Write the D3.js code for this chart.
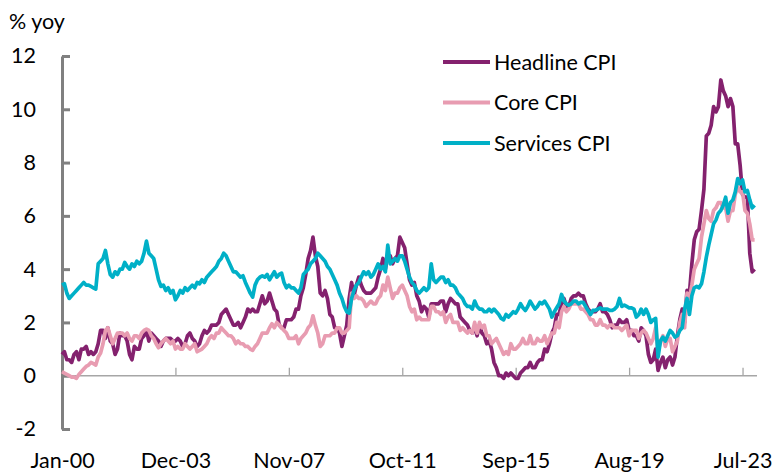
<!DOCTYPE html>
<html>
<head>
<meta charset="utf-8">
<script src="https://cdn.jsdelivr.net/npm/d3@7"></script>
<style>
  body { margin: 0; background: #fff; }
  svg { display: block; font-family: Lato, "Open Sans", sans-serif; }
</style>
</head>
<body>
<svg id="chart" width="777" height="472"></svg>
<script>
// monthly % yoy, Jan 2000 .. Dec 2023 (one row per year)
const headline = [
  0.8, 0.9, 0.6, 0.6, 0.5, 0.8, 0.9, 0.6, 1.0, 1.0, 1.1, 0.8,
  0.9, 0.8, 0.9, 1.2, 1.7, 1.7, 1.4, 1.8, 1.3, 1.2, 0.8, 1.0,
  1.6, 1.5, 1.5, 1.3, 0.8, 0.6, 1.1, 1.0, 1.0, 1.4, 1.5, 1.7,
  1.3, 1.6, 1.5, 1.4, 1.3, 1.1, 1.3, 1.4, 1.4, 1.4, 1.3, 1.3,
  1.4, 1.3, 1.1, 1.2, 1.5, 1.6, 1.4, 1.3, 1.1, 1.2, 1.5, 1.7,
  1.6, 1.7, 1.9, 1.9, 1.9, 2.0, 2.3, 2.4, 2.5, 2.3, 2.1, 1.9,
  1.9, 2.0, 1.8, 2.0, 2.2, 2.5, 2.4, 2.5, 2.4, 2.4, 2.7, 3.0,
  2.7, 2.8, 3.1, 2.8, 2.5, 2.4, 1.9, 1.8, 1.8, 2.1, 2.1, 2.1,
  2.2, 2.5, 2.5, 3.0, 3.3, 3.8, 4.4, 4.7, 5.2, 4.5, 4.1, 3.1,
  3.0, 3.2, 2.9, 2.3, 2.2, 1.8, 1.8, 1.6, 1.1, 1.5, 1.9, 2.9,
  3.5, 3.0, 3.4, 3.7, 3.4, 3.2, 3.1, 3.1, 3.1, 3.2, 3.3, 3.7,
  4.0, 4.4, 4.0, 4.5, 4.5, 4.2, 4.4, 4.5, 5.2, 5.0, 4.8, 4.2,
  3.6, 3.4, 3.5, 3.0, 2.8, 2.4, 2.6, 2.5, 2.2, 2.7, 2.7, 2.7,
  2.7, 2.8, 2.8, 2.4, 2.7, 2.9, 2.8, 2.7, 2.7, 2.2, 2.1, 2.0,
  1.9, 1.7, 1.6, 1.8, 1.5, 1.9, 1.6, 1.5, 1.2, 1.3, 1.0, 0.5,
  0.3, 0.0, 0.0, -0.1, 0.1, 0.0, 0.1, 0.0, -0.1, -0.1, 0.1, 0.2,
  0.3, 0.3, 0.5, 0.3, 0.3, 0.5, 0.6, 0.6, 1.0, 0.9, 1.2, 1.6,
  1.8, 2.3, 2.3, 2.7, 2.9, 2.6, 2.6, 2.9, 3.0, 3.0, 3.1, 3.0,
  3.0, 2.7, 2.5, 2.4, 2.4, 2.4, 2.5, 2.7, 2.4, 2.4, 2.3, 2.1,
  1.8, 1.9, 1.9, 2.1, 2.0, 2.0, 2.1, 1.7, 1.7, 1.5, 1.5, 1.3,
  1.8, 1.7, 1.5, 0.8, 0.5, 0.6, 1.0, 0.2, 0.5, 0.7, 0.3, 0.6,
  0.7, 0.4, 0.7, 1.5, 2.1, 2.5, 2.0, 3.2, 3.1, 4.2, 5.1, 5.4,
  5.5, 6.2, 7.0, 9.0, 9.1, 9.4, 10.1, 9.9, 10.1, 11.1, 10.7, 10.5,
  10.1, 10.4, 10.1, 8.7, 8.7, 7.9, 6.8, 6.7, 6.7, 4.6, 3.9, 4.0
];

const core = [
  0.15, 0.1, 0.05, 0.0, -0.05, -0.05, -0.1, 0.05, 0.15, 0.25, 0.35, 0.4,
  0.5, 0.45, 0.4, 0.7, 0.85, 1.2, 1.7, 1.8, 1.5, 1.2, 1.4, 1.6,
  1.6, 1.6, 1.5, 1.6, 1.4, 1.3, 1.5, 1.5, 1.4, 1.6, 1.7, 1.75,
  1.7, 1.5, 1.4, 1.2, 1.05, 1.2, 1.3, 1.4, 1.3, 1.2, 1.3, 1.0,
  1.1, 1.0, 1.0, 1.2, 1.1, 1.0, 1.1, 1.2, 0.9, 0.95, 1.0, 1.1,
  1.2, 1.4, 1.5, 1.4, 1.6, 1.6, 1.8, 1.7, 1.6, 1.5, 1.5, 1.4,
  1.2, 1.3, 1.2, 1.2, 1.1, 1.1, 1.0, 0.95, 1.1, 1.2, 1.4, 1.6,
  1.6, 1.6, 1.8, 1.95, 1.8, 2.0, 1.9, 1.8, 1.7, 1.6, 1.4, 1.4,
  1.4, 1.5, 1.2, 1.4, 1.5, 1.6, 1.8, 1.9, 2.25, 1.9, 1.6, 1.1,
  1.2, 1.5, 1.5, 1.5, 1.6, 1.6, 1.8, 1.8, 1.6, 1.6, 1.7, 1.8,
  3.1, 2.9, 3.0, 2.9, 2.9, 2.8, 2.6, 2.7, 2.8, 2.7, 2.7, 2.9,
  3.0, 3.4, 3.2, 3.7, 3.3, 2.9, 3.1, 3.1, 3.3, 3.4, 3.2, 3.0,
  2.6, 2.4, 2.5, 2.1, 2.2, 2.1, 2.1, 2.1, 2.1, 2.6, 2.6, 2.4,
  2.4, 2.3, 2.4, 2.0, 2.2, 2.3, 2.0, 2.0, 2.0, 1.7, 1.8, 1.7,
  1.6, 1.7, 1.6, 2.0, 1.6, 2.0, 1.8, 1.9, 1.5, 1.5, 1.2, 1.3,
  1.4, 1.2, 1.0, 0.8, 0.9, 0.8, 1.2, 1.0, 1.0, 1.1, 1.2, 1.4,
  1.2, 1.2, 1.5, 1.2, 1.2, 1.4, 1.3, 1.3, 1.5, 1.2, 1.4, 1.6,
  1.6, 2.0, 1.8, 2.4, 2.6, 2.4, 2.5, 2.7, 2.7, 2.7, 2.7, 2.5,
  2.5, 2.4, 2.3, 2.1, 2.1, 1.9, 1.9, 2.1, 1.9, 1.9, 1.8, 1.9,
  1.9, 1.8, 1.8, 1.8, 1.7, 1.8, 1.9, 1.5, 1.7, 1.7, 1.7, 1.4,
  1.6, 1.7, 1.6, 1.4, 1.2, 1.4, 1.8, 0.9, 1.3, 1.5, 1.1, 1.4,
  1.4, 0.9, 1.1, 1.3, 2.0, 2.3, 1.8, 3.1, 2.9, 3.4, 4.0, 4.2,
  4.4, 5.2, 5.7, 6.2, 5.9, 5.8, 6.2, 6.3, 6.5, 6.5, 6.3, 6.3,
  5.8, 6.2, 6.2, 6.8, 7.1, 6.9, 6.9, 6.2, 6.1, 5.7, 5.1, 5.1
];

const services = [
  3.4, 3.45, 3.1, 2.9, 3.0, 3.1, 3.2, 3.3, 3.4, 3.5, 3.4, 3.4,
  3.35, 3.3, 3.25, 4.2, 4.3, 4.4, 4.7, 4.2, 3.8, 3.7, 3.9, 3.8,
  4.0, 4.0, 4.25, 4.1, 4.0, 4.2, 4.1, 4.3, 4.2, 4.3, 4.6, 5.05,
  4.6, 4.5, 4.4, 4.0, 3.6, 3.35, 3.4, 3.2, 3.3, 3.1, 3.2, 2.85,
  3.0, 3.2, 3.1, 3.3, 3.2, 3.3, 3.4, 3.3, 3.5, 3.45, 3.6, 3.5,
  3.7, 3.8, 3.9, 4.0, 4.1, 4.3, 4.4, 4.6, 4.5, 4.3, 4.1, 3.9,
  3.9, 3.8, 3.7, 3.75, 3.5, 3.3, 3.1, 2.95, 3.4, 3.6, 3.7, 3.75,
  3.7, 3.8, 3.6, 3.75, 3.9, 3.7, 3.8, 3.85, 3.5, 3.3, 3.4, 3.3,
  3.3, 3.2, 3.1, 3.3, 3.8, 3.9, 4.0, 4.2, 4.3, 4.4, 4.6, 4.5,
  4.4, 4.3, 4.1, 4.0, 3.8, 3.6, 3.4, 3.1, 2.9, 2.6, 2.4, 2.35,
  2.9, 3.2, 3.4, 3.5, 3.7, 3.9, 3.8, 3.9, 3.7, 3.8, 4.0, 4.2,
  4.0, 4.1, 3.9, 4.9, 4.2, 4.3, 4.4, 4.3, 4.5, 4.5, 4.3, 4.0,
  3.7, 3.5, 3.4, 3.2, 3.1, 3.2, 3.3, 3.2, 3.3, 4.2, 3.6, 3.5,
  3.6, 3.7, 3.7, 3.5, 3.6, 3.4, 3.4, 3.3, 3.1, 3.0, 2.9, 2.7,
  2.6, 2.6, 2.5, 2.8, 2.6, 2.5, 2.5, 2.4, 2.4, 2.5, 2.4, 2.5,
  2.4, 2.3, 2.15, 2.1, 2.3, 2.2, 2.3, 2.4, 2.35, 2.5, 2.7, 2.55,
  2.45, 2.6, 2.8, 2.65, 2.5, 2.6, 2.75, 2.7, 2.8, 2.65, 2.5, 2.2,
  2.4, 2.55, 2.7, 3.05, 2.8, 2.7, 2.65, 2.7, 2.8, 2.8, 2.7, 2.75,
  2.75, 2.6, 2.45, 2.3, 2.45, 2.45, 2.5, 2.55, 2.5, 2.5, 2.5, 2.45,
  2.45, 2.5, 2.6, 2.9, 2.6, 2.65, 2.6, 2.55, 2.55, 2.5, 2.2, 2.3,
  2.5, 2.3, 2.5, 2.3, 2.0, 2.1, 2.15, 0.7, 1.3, 1.45, 1.3, 1.5,
  1.7, 1.6, 1.45, 1.5, 1.7, 1.8, 2.5, 2.9, 2.3, 3.0, 3.3, 3.35,
  3.3, 3.45, 3.9, 4.45, 4.9, 5.3, 5.7, 5.85, 6.1, 6.2, 6.4, 6.7,
  6.1, 6.5, 6.6, 6.9, 7.4, 7.2, 7.35, 6.9, 6.95, 6.6, 6.3, 6.4
];

const seriesNames = ['Headline CPI', 'Core CPI', 'Services CPI'];
const seriesColors = ['#84216e', '#e89cb1', '#00b0c7'];
const tickLabels = ['Jan-00', 'Dec-03', 'Nov-07', 'Oct-11', 'Sep-15', 'Aug-19', 'Jul-23'];
const yTicks = [-2, 0, 2, 4, 6, 8, 10, 12];

const months = d3.timeMonth.range(new Date(2000, 0, 1), new Date(2024, 0, 1));
const categories = months.map(d3.timeFormat('%b-%y'));

const svg = d3.select('#chart');
const fontSize = 21.5;

const x = d3.scalePoint().domain(categories).range([62, 754.6]);
const y = d3.scaleLinear().domain([-2, 12]).range([429, 56]);

// x axis sits on zero, labels pushed to the bottom
const xAxis = svg.append('g')
  .attr('transform', `translate(0,${y(0)})`)
  .call(d3.axisBottom(x).tickValues(tickLabels).tickSize(-8).tickPadding(77));
xAxis.select('.domain').remove();
xAxis.selectAll('.tick line').attr('stroke', '#a6a6a6').attr('stroke-width', 1.3);
xAxis.append('line')
  .attr('x1', 62).attr('x2', 757)
  .attr('stroke', '#a6a6a6').attr('stroke-width', 1.5);
xAxis.selectAll('text')
  .attr('font-size', fontSize).attr('fill', '#000')
  .attr('font-family', 'Lato, sans-serif');

// y axis (plain hyphen for negatives, as in the original)
const yAxis = svg.append('g')
  .attr('transform', 'translate(62,0)')
  .call(d3.axisLeft(y).tickValues(yTicks).tickFormat((d) => String(d))
    .tickSize(-8).tickSizeOuter(0).tickPadding(26));
yAxis.select('.domain').attr('stroke', '#808080').attr('stroke-width', 3);
yAxis.selectAll('.tick line').attr('stroke', '#808080').attr('stroke-width', 3);
yAxis.selectAll('text')
  .attr('font-size', fontSize).attr('fill', '#000')
  .attr('font-family', 'Lato, sans-serif');

svg.append('text')
  .attr('x', 9).attr('y', 29)
  .attr('font-size', fontSize)
  .text('% yoy');

// series
const line = d3.line()
  .x((d, i) => x(categories[i]))
  .y((d) => y(d));

[headline, core, services].forEach((values, k) => {
  svg.append('path')
    .datum(values)
    .attr('d', line)
    .attr('fill', 'none')
    .attr('stroke', seriesColors[k])
    .attr('stroke-width', 3.7)
    .attr('stroke-linejoin', 'round');
});

// legend
const legend = svg.append('g');
seriesNames.forEach((name, k) => {
  const ly = 62 + k * 40.5;
  legend.append('line')
    .attr('x1', 443).attr('x2', 490)
    .attr('y1', ly).attr('y2', ly)
    .attr('stroke', seriesColors[k])
    .attr('stroke-width', 4);
  legend.append('text')
    .attr('x', 494).attr('y', ly)
    .attr('dy', '0.35em')
    .attr('font-size', fontSize)
    .text(name);
});
</script>
</body>
</html>
